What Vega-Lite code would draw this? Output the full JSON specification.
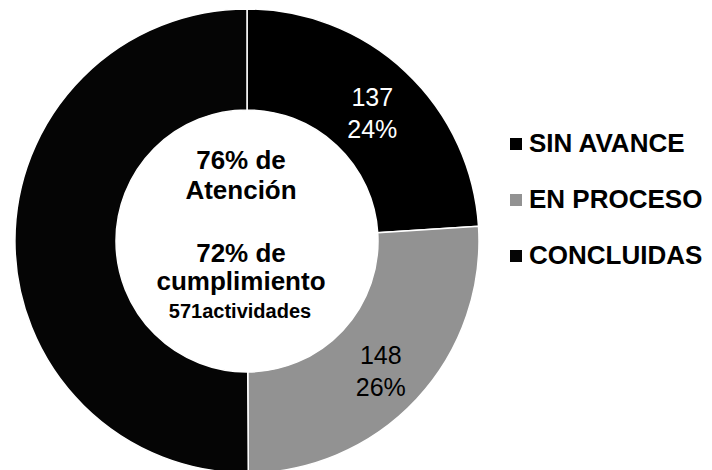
{
  "$schema": "https://vega.github.io/schema/vega-lite/v6.json",
  "width": 494,
  "height": 482,
  "padding": 0,
  "background": "white",
  "config": {"view": {"stroke": null}, "font": "Liberation Sans"},
  "data": {
    "values": [
      {"categoria": "SIN AVANCE", "actividades": 137, "orden": 1, "etiqueta": "137\n24%"},
      {"categoria": "EN PROCESO", "actividades": 148, "orden": 2, "etiqueta": "148\n26%"},
      {"categoria": "CONCLUIDAS", "actividades": 286, "orden": 3, "etiqueta": ""}
    ]
  },
  "layer": [
    {
      "mark": {"type": "arc", "outerRadius": 232, "innerRadius": 131, "stroke": "white", "strokeWidth": 1.5},
      "encoding": {
        "theta": {"field": "actividades", "type": "quantitative", "stack": true},
        "order": {"field": "orden", "type": "quantitative"},
        "color": {
          "field": "categoria",
          "type": "nominal",
          "scale": {"domain": ["SIN AVANCE", "EN PROCESO", "CONCLUIDAS"], "range": ["#000000", "#929292", "#050505"]},
          "legend": {
            "title": null,
            "orient": "none",
            "legendX": 503,
            "legendY": 131,
            "symbolType": "square",
            "symbolSize": 144,
            "symbolStrokeWidth": 0,
            "labelFont": "Liberation Sans",
            "labelFontSize": 26,
            "labelFontWeight": "bold",
            "labelColor": "black",
            "labelOffset": 0,
            "rowPadding": 30,
            "labelLimit": 300
          }
        }
      }
    },
    {
      "mark": {"type": "text", "radius": 183, "fontSize": 25, "lineBreak": "\n", "lineHeight": 32, "dy": -10, "font": "Liberation Sans"},
      "encoding": {
        "theta": {"field": "actividades", "type": "quantitative", "stack": true},
        "order": {"field": "orden", "type": "quantitative"},
        "text": {"field": "etiqueta", "type": "nominal"},
        "color": {"condition": {"test": "datum.categoria == 'SIN AVANCE'", "value": "white"}, "value": "black"}
      }
    },
    {
      "data": {"values": [{"texto": "76% de\nAtención"}]},
      "mark": {"type": "text", "fontSize": 26, "fontWeight": "bold", "lineBreak": "\n", "lineHeight": 30, "dx": -6, "dy": -80, "color": "black", "font": "Liberation Sans"},
      "encoding": {"text": {"field": "texto", "type": "nominal"}}
    },
    {
      "data": {"values": [{"texto": "72% de\ncumplimiento"}]},
      "mark": {"type": "text", "fontSize": 26, "fontWeight": "bold", "lineBreak": "\n", "lineHeight": 28, "dx": -6, "dy": 13, "color": "black", "font": "Liberation Sans"},
      "encoding": {"text": {"field": "texto", "type": "nominal"}}
    },
    {
      "data": {"values": [{"texto": "571actividades"}]},
      "mark": {"type": "text", "fontSize": 20, "fontWeight": "bold", "dx": -7, "dy": 71, "color": "black", "font": "Liberation Sans"},
      "encoding": {"text": {"field": "texto", "type": "nominal"}}
    }
  ]
}
